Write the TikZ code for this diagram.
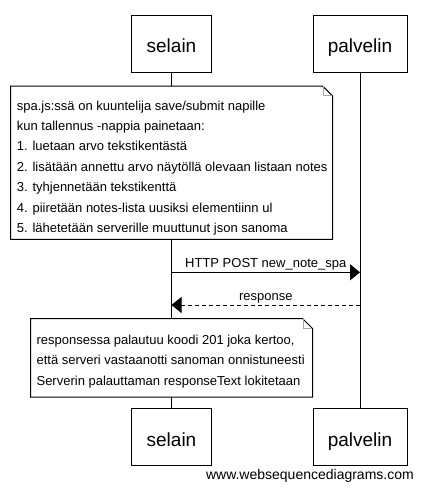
\documentclass[tikz,border=0pt]{standalone}
\usepackage{fontspec}
\setmainfont{Liberation Sans}
\usetikzlibrary{arrows.meta}

\begin{document}
\begin{tikzpicture}[x=1pt, y=-1pt,
  actor/.style={draw, line width=1pt, inner sep=0pt, minimum height=57pt,
    font=\fontsize{19pt}{22pt}\selectfont, text height=18.4pt, text depth=0pt},
  lifeline/.style={line width=1pt},
  notebox/.style={inner sep=0pt, anchor=north west},
  notetext/.style={inner sep=0pt, anchor=north west, align=left,
    font=\fontsize{13pt}{20.4pt}\selectfont},
  msg/.style={line width=1pt, -{Triangle[length=10pt,width=16pt]}},
  msglabel/.style={midway, anchor=base, yshift=4.6pt, font=\fontsize{13pt}{15pt}\selectfont}]
  \useasboundingbox (0,0) rectangle (422,490);

  % Participants
  \node[actor, minimum width=80pt] (sel-top) at (171.5,43.5) {selain};
  \node[actor, minimum width=94pt] (pal-top) at (360,43.5) {palvelin};
  \node[actor, minimum width=80pt] (sel-bot) at (171.5,437.3) {selain};
  \node[actor, minimum width=94pt] (pal-bot) at (360,437.3) {palvelin};

  % Lifelines
  \draw[lifeline] (sel-top.south) -- (sel-bot.north);
  \draw[lifeline] (pal-top.south) -- (pal-bot.north);

  % First note
  \node[notebox, minimum width=321.6pt, minimum height=153pt] (note1) at (10.7,86) {};
  \draw[line width=1pt, fill=white] (note1.south west) -- (note1.north west)
    -- ([xshift=-10pt]note1.north east) -- ([yshift=-10pt]note1.north east)
    -- (note1.south east) -- cycle;
  \draw[gray!70] ([xshift=-10pt]note1.north east) -- ([xshift=-10pt,yshift=-9.5pt]note1.north east)
    -- ([xshift=-0.5pt,yshift=-9.5pt]note1.north east);
  \node[notetext] (note1-txt) at (16.7,100.4) {spa.js:ssä on kuuntelija save/submit napille\\
    kun tallennus -nappia painetaan:\\
    1. luetaan arvo tekstikentästä\\
    2. lisätään annettu arvo näytöllä olevaan listaan notes\\
    3. tyhjennetään tekstikenttä\\
    4. piiretään notes-lista uusiksi elementiinn ul\\
    5. lähetetään serverille muuttunut json sanoma};

  % Messages
  \draw[msg] (sel-top.south |- 0,272.3) -- (pal-top.south |- 0,272.3)
    node[msglabel] (post) {HTTP POST new\_note\_spa};
  \draw[msg, dash pattern=on 4pt off 3pt] (pal-top.south |- 0,305) -- (sel-top.south |- 0,305)
    node[msglabel] (resp) {response};

  % Second note
  \node[notebox, minimum width=281.6pt, minimum height=78pt] (note2) at (30.7,318.7) {};
  \draw[line width=1pt, fill=white] (note2.south west) -- (note2.north west)
    -- ([xshift=-10pt]note2.north east) -- ([yshift=-10pt]note2.north east)
    -- (note2.south east) -- cycle;
  \draw[gray!70] ([xshift=-10pt]note2.north east) -- ([xshift=-10pt,yshift=-9.5pt]note2.north east)
    -- ([xshift=-0.5pt,yshift=-9.5pt]note2.north east);
  \node[notetext] (note2-txt) at (36.4,334.8) {responsessa palautuu koodi 201 joka kertoo,\\
    että serveri vastaanotti sanoman onnistuneesti\\
    Serverin palauttaman responseText lokitetaan};

  % Watermark
  \node[anchor=base east, inner sep=0pt, font=\fontsize{14pt}{16pt}\selectfont] (wsd)
    at (414,479.3) {www.websequencediagrams.com};
\end{tikzpicture}
\end{document}
